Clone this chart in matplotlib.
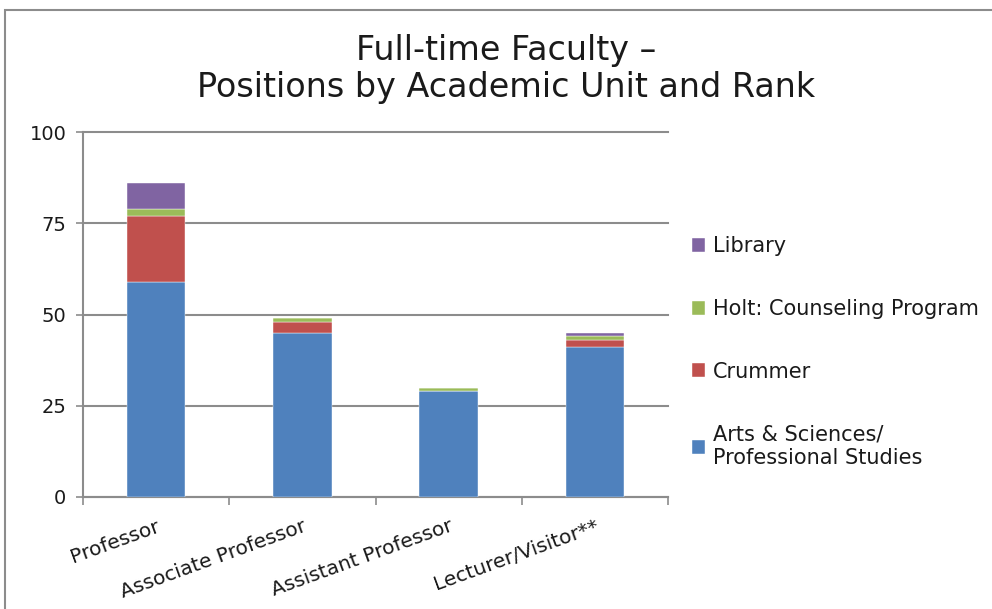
import matplotlib.pyplot as plt
import numpy as np

# data
ranks = ['Professor', 'Associate Professor', 'Assistant Professor', 'Lecturer/Visitor**']
arts = [59, 45, 29, 41]
crummer = [18, 3, 0, 2]
holt = [2, 1, 1, 1]
library = [7, 0, 0, 1]

series = ['Arts & Sciences/\nProfessional Studies', 'Crummer', 'Holt: Counseling Program', 'Library']
colors = ['#4F81BD', '#C0504D', '#9BBB59', '#8064A2']

plt.rcParams['font.family'] = ['DejaVu Sans']
txt = '#1a1a1a'

fig = plt.figure(figsize=(9.92, 6.09), dpi=100)
# gray frame around the chart
fig.patches.append(plt.Rectangle((5/992, -0.1), 1.2, 1 - 10/609 + 0.1, transform=fig.transFigure,
                                 fill=False, edgecolor='#8c8c8c', linewidth=1.5))

ax = fig.add_axes([83/992, 1 - 497/609, 585/992, 365/609])

x = np.arange(len(ranks))
bottom = np.zeros(len(ranks))
for vals, lab, c in zip([arts, crummer, holt, library], series, colors):
    ax.bar(x, vals, 0.4, bottom=bottom, color=c, label=lab, edgecolor='white', linewidth=0.3, zorder=3)
    bottom += np.array(vals)

ax.set_xlim(-0.5, 3.5)
ax.set_ylim(0, 100)
ax.set_yticks([0, 25, 50, 75, 100])
ax.yaxis.grid(True, color='#8c8c8c', linewidth=1.5, zorder=0)
for gl in ax.get_ygridlines():
    gl.set_clip_on(False)
ax.set_xticks(x)
ax.set_xticklabels(ranks, rotation=20, ha='right', rotation_mode='anchor', fontsize=14.5, color=txt)
ax.tick_params(axis='x', length=0, pad=14)
ax.set_xticks([-0.5, 0.5, 1.5, 2.5, 3.5], minor=True)
ax.tick_params(axis='x', which='minor', length=6, color='#8c8c8c', width=1.2)
ax.tick_params(axis='y', length=5, color='#8c8c8c', width=1.2, labelsize=14, pad=7, labelcolor=txt)
for s in ['top', 'right']:
    ax.spines[s].set_visible(False)
for s in ['left', 'bottom']:
    ax.spines[s].set_color('#8c8c8c')
    ax.spines[s].set_linewidth(1.5)

h, l = ax.get_legend_handles_labels()
leg = fig.legend(h[::-1], l[::-1], loc='center left', bbox_to_anchor=(673/992, 1 - 352/609),
                 frameon=False, fontsize=15, handlelength=0.65, handleheight=0.65,
                 labelspacing=2.05, handletextpad=0.35, labelcolor=txt)

fig.text(0.51, 1 - 69/609, 'Full-time Faculty –\nPositions by Academic Unit and Rank',
         ha='center', va='center', fontsize=24, linespacing=1.12, color=txt)

fig.savefig('out.png', dpi=100)
